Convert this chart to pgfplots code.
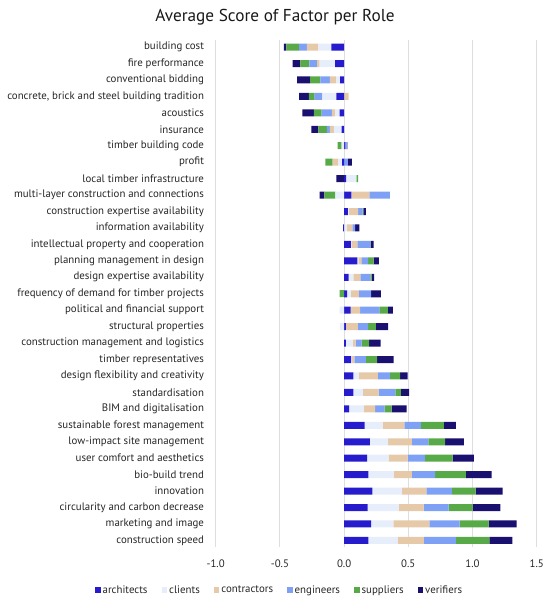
\documentclass[border=0pt]{standalone}
\usepackage{pgfplots}
\pgfplotsset{compat=1.18}
\usepackage{pgfplotstable}
\usepackage{fontspec}
\setmainfont{PT Sans}
\definecolor{cArch}{RGB}{38,28,205}
\definecolor{cCli}{RGB}{230,237,251}
\definecolor{cCon}{RGB}{230,201,168}
\definecolor{cEng}{RGB}{127,161,245}
\definecolor{cSup}{RGB}{88,170,72}
\definecolor{cVer}{RGB}{26,16,112}
\definecolor{cGrid}{RGB}{222,222,222}

\pgfplotstableread{
row arch cli con eng sup ver
1 0 0 0 0 0 0
2 0 0 0 0 0 0
3 0 0 0 0 0 0
4 0 0 0.035 0 0 0
5 0 0 0 0 0 0
6 0 0 0 0 0 0
7 0.01 0 0 0.01 0 0.005
8 0 0 0 0.03 0 0.03
9 0.015 0.08 0 0 0.015 0
10 0.057 0 0.14 0.16 0 0
11 0.03 0.01 0.07 0.035 0.005 0.02
12 0 0.023 0.042 0.02 0 0.034
13 0.052 0.005 0.047 0.10 0.003 0.023
14 0.104 0.008 0.023 0.052 0.042 0.042
15 0.036 0.036 0.055 0.078 0.01 0.018
16 0.023 0.03 0.062 0.096 0 0.075
17 0.05 0 0.075 0.15 0.065 0.04
18 0.013 0 0.094 0.08 0.06 0.096
19 0.013 0.055 0.022 0.047 0.057 0.09
20 0.055 0.005 0.02 0.09 0.088 0.127
21 0.073 0.04 0.15 0.096 0.078 0.057
22 0.073 0.073 0.122 0.132 0.042 0.065
23 0.04 0.114 0.088 0.073 0.055 0.117
24 0.16 0.14 0.17 0.127 0.18 0.094
25 0.20 0.143 0.184 0.13 0.13 0.145
26 0.18 0.166 0.148 0.135 0.216 0.166
27 0.19 0.195 0.143 0.18 0.24 0.20
28 0.22 0.23 0.19 0.20 0.184 0.21
29 0.184 0.24 0.195 0.195 0.187 0.216
30 0.21 0.174 0.28 0.236 0.226 0.218
31 0.19 0.226 0.205 0.25 0.26 0.18
}\pos

\pgfplotstableread{
row arch cli con eng sup ver
1 -0.10 -0.10 -0.09 -0.06 -0.10 -0.02
2 -0.07 -0.12 -0.02 -0.06 -0.07 -0.06
3 -0.03 -0.03 -0.05 -0.075 -0.08 -0.10
4 -0.06 -0.11 0 -0.06 -0.045 -0.075
5 -0.035 -0.035 -0.025 -0.08 -0.06 -0.09
6 -0.02 -0.06 -0.03 -0.025 -0.065 -0.055
7 0 -0.02 0 0 -0.03 0
8 -0.015 -0.03 -0.045 0 -0.055 0
9 0 0 0 0 0 -0.06
10 0 -0.068 0 0 -0.086 -0.036
11 0 0 0 0 0 0
12 -0.008 0 0 0 0 0
13 0 0 0 0 0 0
14 0 0 0 0 0 0
15 0 0 0 0 0 0
16 0 0 0 0 -0.034 0
17 0 -0.035 0 0 0 0
18 0 -0.03 0 0 0 0
19 0 0 0 0 0 0
20 0 0 0 0 0 0
21 0 0 0 0 0 0
22 0 0 0 0 0 0
23 0 0 0 0 0 0
24 0 0 0 0 0 0
25 0 0 0 0 0 0
26 0 0 0 0 0 0
27 0 0 0 0 0 0
28 0 0 0 0 0 0
29 0 0 0 0 0 0
30 0 0 0 0 0 0
31 0 0 0 0 0 0
}\neg

\pgfplotsset{
  common/.style={
    scale only axis, width=321bp, height=507bp,
    at={(0,0)}, anchor=south west,
    xmin=-1, xmax=1.5, ymin=0.57, ymax=31.4, y dir=reverse,
    xbar stacked, bar width=7bp,
    every axis plot/.append style={draw=none},
  },
}

\begin{document}
\begin{tikzpicture}
\useasboundingbox (-215.7bp,-54bp) rectangle (334.3bp,547bp);
\begin{axis}[common,
  axis line style={draw=none}, tick style={draw=none},
  xtick={-1,-0.5,0,0.5,1,1.5},
  xticklabels={-1.0,-0.5,0.0,0.5,1.0,1.5},
  xmajorgrids, major grid style={cGrid, line width=0.8bp},
  ytick={1,...,31},
  yticklabels={building cost, fire performance, conventional bidding, {concrete, brick and steel building tradition}, acoustics, insurance, timber building code, profit, local timber infrastructure, multi-layer construction and connections, construction expertise availability, information availability, intellectual property and cooperation, planning management in design, design expertise availability, frequency of demand for timber projects, political and financial support, structural properties, construction management and logistics, timber representatives, design flexibility and creativity, standardisation, BIM and digitalisation, sustainable forest management, low-impact site management, user comfort and aesthetics, bio-build trend, innovation, circularity and carbon decrease, marketing and image, construction speed},
  yticklabel style={font=\fontsize{10.9}{12}\selectfont, color=black!85, inner sep=0pt, anchor=east, xshift=-11.5bp},
  xticklabel style={font=\fontsize{10.9}{12}\selectfont, color=black!85, inner sep=0pt, anchor=north, yshift=-13bp},
  legend columns=6,
  legend style={draw=none, fill=none, at={(rel axis cs:0.199,-0.0848)}, anchor=center,
    font=\fontsize{10.9}{12}\selectfont, text=black!85, inner sep=0pt,
    /tikz/every even column/.append style={column sep=12bp}},
  legend image code/.code={\fill[#1] (0bp,-2.8bp) rectangle (5.6bp,2.8bp);},
]
\addplot[fill=cArch] table[x=arch,y=row]{\pos}; \addlegendentry{architects}
\addplot[fill=cCli] table[x=cli,y=row]{\pos}; \addlegendentry{clients}
\addplot[fill=cCon] table[x=con,y=row]{\pos}; \addlegendentry{contractors}
\addplot[fill=cEng] table[x=eng,y=row]{\pos}; \addlegendentry{engineers}
\addplot[fill=cSup] table[x=sup,y=row]{\pos}; \addlegendentry{suppliers}
\addplot[fill=cVer] table[x=ver,y=row]{\pos}; \addlegendentry{verifiers}
\end{axis}
\begin{axis}[common, hide axis]
\addplot[fill=cArch] table[x=arch,y=row]{\neg};
\addplot[fill=cCli] table[x=cli,y=row]{\neg};
\addplot[fill=cCon] table[x=con,y=row]{\neg};
\addplot[fill=cEng] table[x=eng,y=row]{\neg};
\addplot[fill=cSup] table[x=sup,y=row]{\neg};
\addplot[fill=cVer] table[x=ver,y=row]{\neg};
\end{axis}
\node[font=\fontsize{17.3}{20}\selectfont, text=black!90] at (59.3bp,530bp) {Average Score of Factor per Role};
\end{tikzpicture}
\end{document}
